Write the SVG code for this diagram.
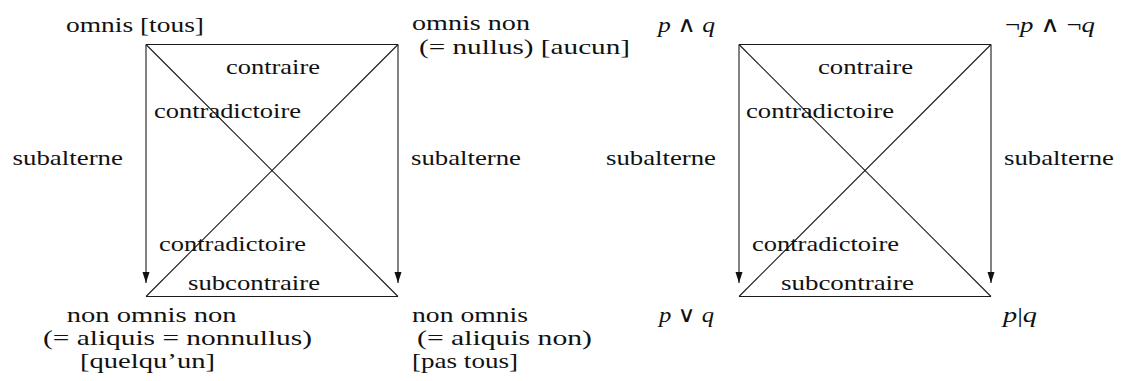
<svg xmlns="http://www.w3.org/2000/svg" width="1121" height="381" viewBox="0 0 1121 381" font-family="'Liberation Serif', 'DejaVu Serif', serif">
<style>
text{font-size:22px;fill:#111}
.m{font-style:italic}
.u{font-style:normal}
.ln{stroke:#1a1a1a;stroke-width:1.1;fill:none}
</style>
<defs>
<marker id="ah" markerUnits="userSpaceOnUse" markerWidth="11" markerHeight="8" refX="11" refY="4" orient="auto">
<path d="M0,0.5 L11,4 L0,7.5 z" fill="#111"/>
</marker>
</defs>
<rect width="1121" height="381" fill="#fff"/>

<g id="connectors">
<line class="ln" x1="146" y1="44.5" x2="398" y2="44.5"/>
<line class="ln" x1="146" y1="296.5" x2="398" y2="296.5"/>
<line class="ln" x1="146" y1="44.5" x2="398" y2="296.5"/>
<line class="ln" x1="398" y1="44.5" x2="146" y2="296.5"/>
<line class="ln" x1="146" y1="44.5" x2="146" y2="283" marker-end="url(#ah)"/>
<line class="ln" x1="398" y1="44.5" x2="398" y2="283" marker-end="url(#ah)"/>
<line class="ln" x1="739" y1="44.5" x2="991" y2="44.5"/>
<line class="ln" x1="739" y1="296.5" x2="991" y2="296.5"/>
<line class="ln" x1="739" y1="44.5" x2="991" y2="296.5"/>
<line class="ln" x1="991" y1="44.5" x2="739" y2="296.5"/>
<line class="ln" x1="739" y1="44.5" x2="739" y2="283" marker-end="url(#ah)"/>
<line class="ln" x1="991" y1="44.5" x2="991" y2="283" marker-end="url(#ah)"/>
</g>

<g id="connector-labels" font-family="Liberation Serif, DejaVu Serif, serif">
<text x="226" y="74" textLength="94" lengthAdjust="spacingAndGlyphs">contraire</text>
<text x="154" y="118" textLength="147" lengthAdjust="spacingAndGlyphs">contradictoire</text>
<text x="12.5" y="165" textLength="110.5" lengthAdjust="spacingAndGlyphs">subalterne</text>
<text x="411" y="165" textLength="110" lengthAdjust="spacingAndGlyphs">subalterne</text>
<text x="159" y="251" textLength="147" lengthAdjust="spacingAndGlyphs">contradictoire</text>
<text x="188" y="290" textLength="132" lengthAdjust="spacingAndGlyphs">subcontraire</text>
<text x="818" y="74" textLength="95" lengthAdjust="spacingAndGlyphs">contraire</text>
<text x="746" y="118" textLength="148" lengthAdjust="spacingAndGlyphs">contradictoire</text>
<text x="606" y="165" textLength="110" lengthAdjust="spacingAndGlyphs">subalterne</text>
<text x="1004" y="165" textLength="110" lengthAdjust="spacingAndGlyphs">subalterne</text>
<text x="752" y="251" textLength="147" lengthAdjust="spacingAndGlyphs">contradictoire</text>
<text x="781" y="290" textLength="133" lengthAdjust="spacingAndGlyphs">subcontraire</text>
</g>

<g id="node-omnis" font-family="Liberation Serif, DejaVu Serif, serif">
<text x="66" y="32" textLength="138" lengthAdjust="spacingAndGlyphs">omnis [tous]</text>
</g>
<g id="node-omnis-non" font-family="Liberation Serif, DejaVu Serif, serif">
<text x="412" y="30" textLength="118" lengthAdjust="spacingAndGlyphs">omnis non</text>
<text x="419" y="54" textLength="211" lengthAdjust="spacingAndGlyphs">(= nullus) [aucun]</text>
</g>
<g id="node-non-omnis-non" font-family="Liberation Serif, DejaVu Serif, serif">
<text x="66.7" y="322" textLength="170" lengthAdjust="spacingAndGlyphs">non omnis non</text>
<text x="43" y="345" textLength="269" lengthAdjust="spacingAndGlyphs">(= aliquis = nonnullus)</text>
<text x="80" y="368" textLength="135" lengthAdjust="spacingAndGlyphs">[quelqu’un]</text>
</g>
<g id="node-non-omnis" font-family="Liberation Serif, DejaVu Serif, serif">
<text x="412" y="322" textLength="116" lengthAdjust="spacingAndGlyphs">non omnis</text>
<text x="417" y="345" textLength="175" lengthAdjust="spacingAndGlyphs">(= aliquis non)</text>
<text x="412" y="368" textLength="106" lengthAdjust="spacingAndGlyphs">[pas tous]</text>
</g>

<g id="node-p-and-q" font-family="Liberation Serif, DejaVu Serif, serif">
<text class="m" x="658" y="32" textLength="57" lengthAdjust="spacingAndGlyphs">p <tspan class="u">∧</tspan> q</text>
</g>
<g id="node-notp-and-notq" font-family="Liberation Serif, DejaVu Serif, serif">
<text class="m" x="1005" y="32" textLength="90" lengthAdjust="spacingAndGlyphs"><tspan class="u">¬</tspan>p <tspan class="u">∧</tspan> <tspan class="u">¬</tspan>q</text>
</g>
<g id="node-p-or-q" font-family="Liberation Serif, DejaVu Serif, serif">
<text class="m" x="659" y="322" textLength="55" lengthAdjust="spacingAndGlyphs">p <tspan class="u">∨</tspan> q</text>
</g>
<g id="node-p-nand-q" font-family="Liberation Serif, DejaVu Serif, serif">
<text class="m" x="1003" y="322" textLength="34" lengthAdjust="spacingAndGlyphs">p<tspan class="u">|</tspan>q</text>
</g>
</svg>
